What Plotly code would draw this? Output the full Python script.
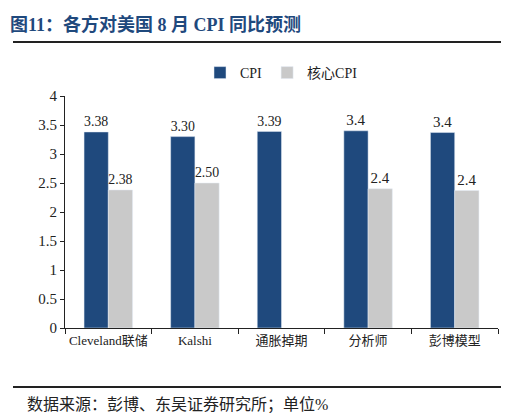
import plotly.graph_objects as go

categories = ["Cleveland联储", "Kalshi", "通胀掉期", "分析师", "彭博模型"]
cpi = [3.38, 3.30, 3.39, 3.40, 3.37]
cpi_labels = ["3.38", "3.30", "3.39", "3.4", "3.4"]
core = [2.38, 2.50, None, 2.40, 2.37]
core_labels = ["2.38", "2.50", "", "2.4", "2.4"]

FONT = "Liberation Serif, Noto Sans CJK SC, serif"
fig = go.Figure()
fig.add_trace(go.Bar(name="CPI", x=categories, y=cpi, text=cpi_labels, textposition="outside",
                     marker_color="#1F497D", textfont=dict(size=15, color="#222")))
fig.add_trace(go.Bar(name="核心CPI", x=categories, y=core, text=core_labels, textposition="outside",
                     marker_color="#C9C9C9", textfont=dict(size=15, color="#222")))
fig.update_layout(
    width=509, height=413, plot_bgcolor="white", paper_bgcolor="white",
    margin=dict(l=57, r=19, t=88, b=93, autoexpand=False),
    bargap=0.44, bargroupgap=0, barmode="group",
    font=dict(family=FONT, size=14, color="#222"),
    legend=dict(orientation="h", x=0.5, xanchor="center", y=1 + 23/232, yanchor="middle",
                font=dict(size=14), itemwidth=30, traceorder="normal"),
    yaxis=dict(range=[0, 4], dtick=0.5, showgrid=False, showline=True, linecolor="#222",
               ticks="outside", ticklen=4, tickcolor="#222", tickfont=dict(size=15),
               zeroline=False, automargin=False),
    xaxis=dict(showline=True, linecolor="#222", ticks="outside", ticklen=5, tickcolor="#222",
               tickson="boundaries", tickfont=dict(size=13), tickangle=0, automargin=False),
    uniformtext=dict(mode=False),
)
fig.update_traces(cliponaxis=False)
fig.add_annotation(text="<b>图11：各方对美国 8 月 CPI 同比预测</b>", xref="paper", yref="paper",
                   x=-57/433, y=1 + (88-16)/232, xanchor="left", yanchor="middle", showarrow=False,
                   font=dict(size=18, color="#1F497D", family=FONT))
fig.add_annotation(text="数据来源：彭博、东吴证券研究所；单位%", xref="paper", yref="paper",
                   x=-40/433, y=-(397-320)/232, xanchor="left", yanchor="middle", showarrow=False,
                   font=dict(size=16, color="#222", family=FONT))
for yy in [34, 379]:
    fig.add_shape(type="line", xref="paper", yref="paper", x0=-52/433, x1=(504-57)/433,
                  y0=(320-yy)/232, y1=(320-yy)/232, line=dict(color="#222", width=2))
fig.write_html("out.html")
